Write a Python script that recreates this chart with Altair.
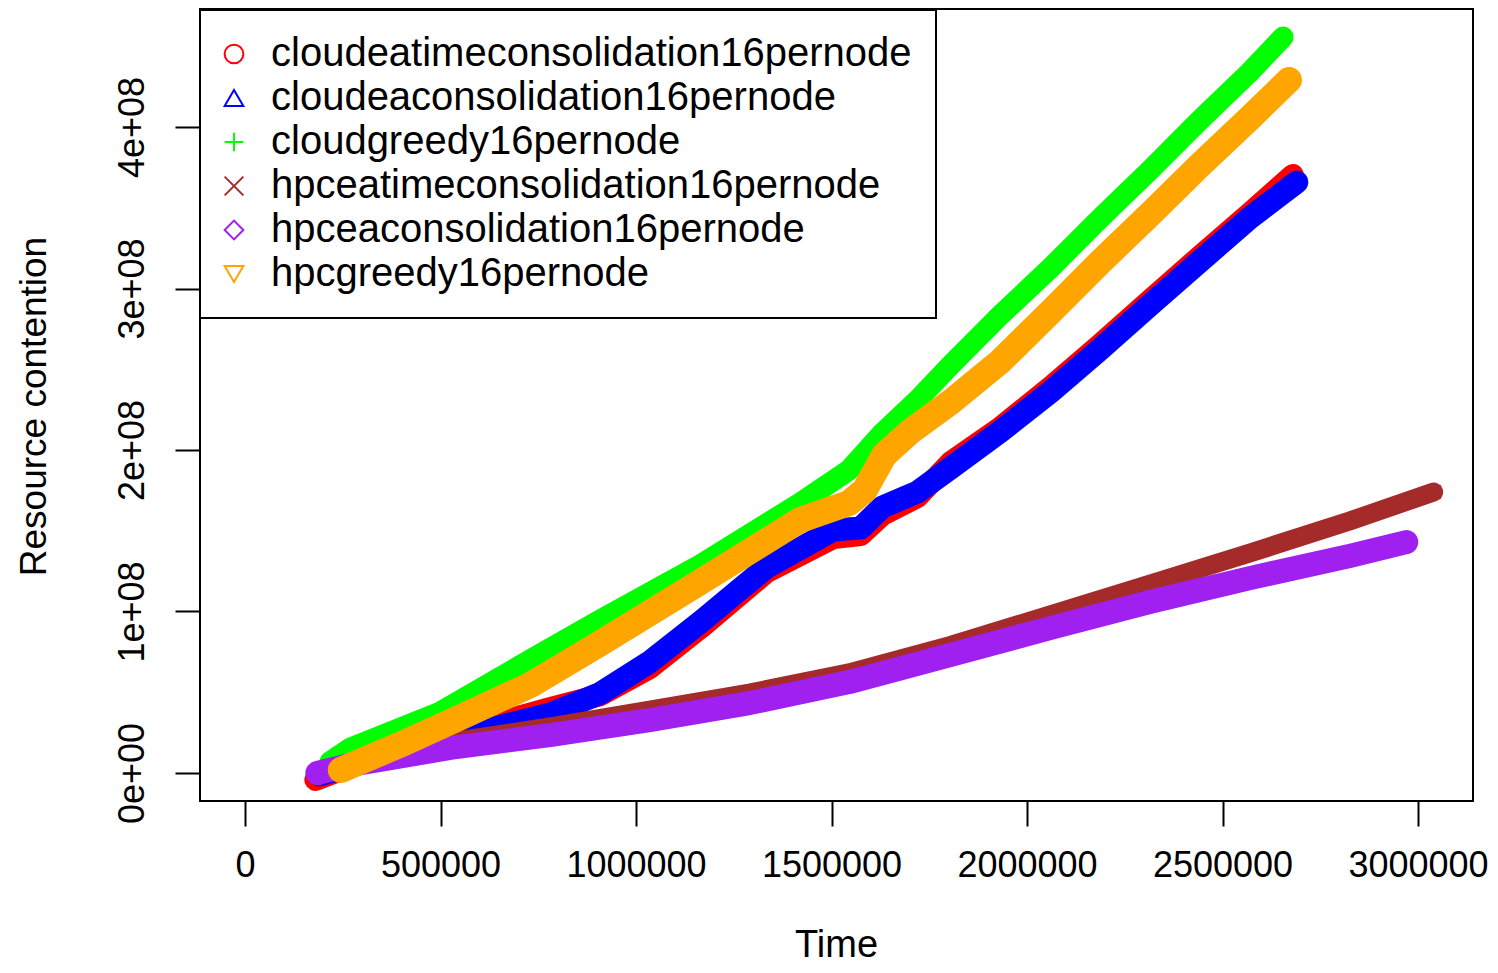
import altair as alt
import pandas as pd

SERIES = [
    "cloudeatimeconsolidation16pernode",
    "cloudeaconsolidation16pernode",
    "cloudgreedy16pernode",
    "hpceatimeconsolidation16pernode",
    "hpceaconsolidation16pernode",
    "hpcgreedy16pernode",
]

# cloudeatimeconsolidation16pernode (red)
red_time = [180000, 395000, 525000, 650000, 780000, 910000, 1035000, 1165000, 1335000, 1505000,
            1575000, 1630000, 1720000, 1805000, 1930000, 2060000, 2185000, 2315000, 2440000, 2570000, 2680000]
red_val = [-4.3e6, 1.55e7, 2.35e7, 3.16e7, 4.02e7, 4.83e7, 6.50e7, 8.98e7, 1.245e8, 1.455e8,
           1.474e8, 1.598e8, 1.709e8, 1.926e8, 2.136e8, 2.390e8, 2.650e8, 2.929e8, 3.195e8, 3.467e8, 3.703e8]

# cloudeaconsolidation16pernode (blue)
blue_time = [190000, 395000, 525000, 650000, 780000, 910000, 1035000, 1165000, 1335000, 1505000,
             1575000, 1630000, 1720000, 1805000, 1930000, 2060000, 2185000, 2315000, 2440000, 2570000, 2690000]
blue_val = [-1.2e6, 1.30e7, 2.04e7, 2.85e7, 3.65e7, 4.95e7, 6.87e7, 9.35e7, 1.276e8, 1.505e8,
            1.517e8, 1.647e8, 1.740e8, 1.889e8, 2.111e8, 2.359e8, 2.619e8, 2.898e8, 3.164e8, 3.437e8, 3.659e8]

# cloudgreedy16pernode (green)
green_time = [217000, 270000, 500000, 755000, 910000, 1165000, 1420000, 1545000, 1630000, 1720000,
              1805000, 1930000, 2060000, 2185000, 2315000, 2440000, 2570000, 2655000]
green_val = [6.8e6, 1.55e7, 3.78e7, 7.37e7, 9.50e7, 1.290e8, 1.672e8, 1.876e8, 2.105e8, 2.310e8,
             2.526e8, 2.830e8, 3.127e8, 3.430e8, 3.734e8, 4.037e8, 4.341e8, 4.557e8]

# hpceatimeconsolidation16pernode (brown)
brown_time = [185000, 270000, 525000, 780000, 1035000, 1290000, 1545000, 1805000, 2060000, 2315000,
              2570000, 2825000, 3040000]
brown_val = [-1.9e6, 6.2e6, 1.92e7, 2.85e7, 3.90e7, 4.95e7, 6.20e7, 7.90e7, 9.80e7, 1.170e8,
             1.362e8, 1.560e8, 1.740e8]

# hpceaconsolidation16pernode (purple)
purple_time = [185000, 270000, 525000, 780000, 1035000, 1290000, 1545000, 1805000, 2060000, 2315000,
               2570000, 2825000, 2970000]
purple_val = [0.0, 5.0e6, 1.55e7, 2.35e7, 3.28e7, 4.33e7, 5.63e7, 7.31e7, 8.98e7, 1.059e8,
              1.207e8, 1.344e8, 1.430e8]

# hpcgreedy16pernode (orange)
orange_time = [245000, 395000, 525000, 730000, 910000, 1165000, 1420000, 1545000, 1585000, 1635000,
               1700000, 1805000, 1930000, 2060000, 2185000, 2315000, 2440000, 2570000, 2670000]
orange_val = [1.9e6, 1.73e7, 3.16e7, 5.45e7, 8.05e7, 1.183e8, 1.567e8, 1.672e8, 1.752e8, 1.969e8,
              2.111e8, 2.297e8, 2.545e8, 2.854e8, 3.158e8, 3.461e8, 3.759e8, 4.056e8, 4.291e8]

X_TICKS = [0, 500000, 1000000, 1500000, 2000000, 2500000, 3000000]
Y_TICKS = [0, 1e8, 2e8, 3e8, 4e8]

ALL = [(red_time, red_val), (blue_time, blue_val), (green_time, green_val),
       (brown_time, brown_val), (purple_time, purple_val), (orange_time, orange_val)]

COLORS = ["#FF0000", "#0000FF", "#00FF00", "#A52A2A", "#A020F0", "#FFA500"]
SHAPES = ["circle", "triangle-up", "M-1,0L1,0M0,-1L0,1", "M-1,-1L1,1M-1,1L1,-1",
          "diamond", "triangle-down"]
BAND = [22, 23, 21, 19, 24, 26]

FONT = "Liberation Sans"

rows = []
for s, (t, v) in zip(SERIES, ALL):
    for a, b in zip(t, v):
        rows.append({"series": s, "time": a, "value": b})
df = pd.DataFrame(rows)

xscale = alt.Scale(domain=[-115090, 3140610], nice=False, zero=False)
yscale = alt.Scale(domain=[-1.734e7, 4.7307e8], nice=False, zero=False)

xaxis = alt.Axis(values=X_TICKS, format="d", grid=False, domain=False, tickSize=25, tickWidth=2,
                 tickColor="black", labelFont=FONT, labelFontSize=36, labelColor="black",
                 labelPadding=22, labelFlush=False, labelOverlap=False,
                 title="Time", titleFont=FONT, titleFontSize=38, titleFontWeight="normal",
                 titleColor="black", titleX=636, titleY=155, titleBaseline="alphabetic",
                 titleAlign="center")
yaxis = alt.Axis(values=Y_TICKS, grid=False, domain=False, tickSize=25, tickWidth=2,
                 tickColor="black", labelFont=FONT, labelFontSize=36, labelColor="black",
                 labelPadding=32, labelAngle=270, labelAlign="center", labelBaseline="alphabetic",
                 labelFlush=False, labelOverlap=False,
                 labelExpr="datum.value == 0 ? '0e+00' : format(datum.value / 1e8, 'd') + 'e+08'",
                 title="Resource contention", titleFont=FONT, titleFontSize=37,
                 titleFontWeight="normal", titleColor="black", titleAngle=270, titleX=-155,
                 titleY=397, titleBaseline="alphabetic", titleAlign="center")

cscale = alt.Scale(domain=SERIES, range=COLORS)
sscale = alt.Scale(domain=SERIES, range=SHAPES)
legend = alt.Legend(orient="none", legendX=0, legendY=1, padding=24, strokeColor="black",
                    fillColor="white", labelFont=FONT, labelFontSize=40, labelColor="black",
                    labelLimit=2000, labelOffset=17, symbolOffset=-10, rowPadding=4,
                    symbolSize=350, symbolStrokeWidth=2)

layers = []
for i, s in enumerate(SERIES):
    base = alt.Chart(df[df["series"] == s])
    line = base.mark_line(strokeWidth=BAND[i], strokeCap="round", strokeJoin="round",
                          color=COLORS[i]).encode(
        x=alt.X("time:Q", scale=xscale, axis=xaxis),
        y=alt.Y("value:Q", scale=yscale, axis=yaxis),
        order=alt.Order("time:Q"),
    )
    pts = base.mark_point(filled=False, size=190, strokeWidth=1.6, opacity=1).encode(
        x=alt.X("time:Q", scale=xscale, axis=xaxis),
        y=alt.Y("value:Q", scale=yscale, axis=yaxis),
        color=alt.Color("series:N", scale=cscale, legend=legend, title=None),
        shape=alt.Shape("series:N", scale=sscale, legend=legend, title=None),
    )
    layers += [line, pts]

chart = alt.layer(*layers).properties(
    width=1273, height=792,
    autosize=alt.AutoSizeParams(type="none"),
    padding={"left": 192, "top": 1, "right": 17, "bottom": 164},
).configure_view(stroke="black", strokeWidth=2).configure_legend(strokeWidth=2)

chart.save("out.html", embed_options={"renderer": "svg", "actions": False})
